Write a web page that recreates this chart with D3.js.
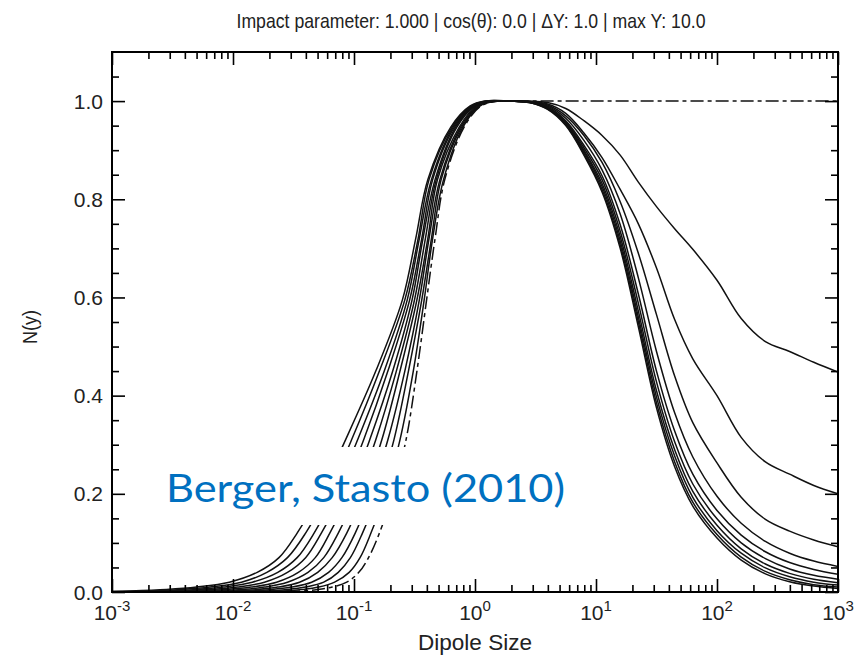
<!DOCTYPE html>
<html>
<head>
<meta charset="utf-8">
<script src="https://cdn.jsdelivr.net/npm/d3@7"></script>
<style>
  html, body { margin: 0; padding: 0; background: #fff; }
  svg { display: block; }
</style>
</head>
<body>
<svg id="chart" width="868" height="655"></svg>
<script>
// ---- text ----
const titleText = "Impact parameter: 1.000 | cos(\u03B8): 0.0 | \u0394Y: 1.0 | max Y: 10.0";
const xLabel = "Dipole Size";
const yLabel = "N(y)";
const noteText = "Berger, Stasto (2010)";

// ---- axis ticks ----
const xDecades = [-3, -2, -1, 0, 1, 2, 3];
const xMinorMultipliers = [2, 3, 4, 5, 6, 7, 8, 9];
const yMajor = [0, 0.2, 0.4, 0.6, 0.8, 1.0];
const yMajorLabels = ["0.0", "0.2", "0.4", "0.6", "0.8", "1.0"];
const yMinor = [0.05, 0.1, 0.15, 0.25, 0.3, 0.35, 0.45, 0.5, 0.55, 0.65, 0.7, 0.75, 0.85, 0.9, 0.95, 1.05];

// ---- evolution steps (one curve each) ----
const rapidity = [0, 1, 2, 3, 4, 5, 6, 7, 8, 9, 10];

// N at the left edge (dipole size 1e-3)
const leftEdgeN = [0, 0, 0, 0, 0, 0.0002, 0.0003, 0.0005, 0.0007, 0.0009, 0.0012];

// rising side: log10(r) where each curve reaches these N levels
const riseLevels = [0.002, 0.005, 0.01, 0.02, 0.04, 0.07, 0.12, 0.2, 0.31, 0.45, 0.595, 0.72, 0.84, 0.947, 0.99, 1.0];
const riseLogR = [
  [-1.45, -1.30, -1.18, -1.06, -0.96, -0.88, -0.79, -0.68, -0.57, -0.48, -0.40, -0.33, -0.25, -0.09, 0.05, 0.20],
  [-1.59, -1.43, -1.29, -1.16, -1.04, -0.95, -0.86, -0.74, -0.62, -0.51, -0.42, -0.35, -0.26, -0.10, 0.04, 0.19],
  [-1.73, -1.55, -1.40, -1.25, -1.13, -1.03, -0.93, -0.80, -0.67, -0.55, -0.44, -0.36, -0.28, -0.11, 0.03, 0.18],
  [-1.87, -1.68, -1.52, -1.35, -1.21, -1.10, -0.99, -0.86, -0.72, -0.58, -0.46, -0.38, -0.29, -0.12, 0.02, 0.16],
  [-2.01, -1.80, -1.63, -1.45, -1.30, -1.18, -1.06, -0.92, -0.77, -0.62, -0.48, -0.39, -0.31, -0.13, 0.01, 0.15],
  [-2.15, -1.93, -1.74, -1.55, -1.38, -1.25, -1.13, -0.98, -0.82, -0.65, -0.50, -0.41, -0.32, -0.15, 0.00, 0.14],
  [-2.29, -2.05, -1.85, -1.64, -1.46, -1.32, -1.20, -1.04, -0.87, -0.68, -0.52, -0.43, -0.33, -0.16, -0.01, 0.13],
  [-2.43, -2.18, -1.96, -1.74, -1.55, -1.40, -1.27, -1.10, -0.92, -0.72, -0.54, -0.44, -0.35, -0.17, -0.01, 0.12],
  [-2.57, -2.30, -2.08, -1.84, -1.63, -1.47, -1.33, -1.16, -0.97, -0.75, -0.56, -0.46, -0.36, -0.18, -0.02, 0.11],
  [-2.71, -2.43, -2.19, -1.93, -1.72, -1.55, -1.40, -1.22, -1.02, -0.79, -0.58, -0.47, -0.38, -0.19, -0.03, 0.09],
  [-2.85, -2.55, -2.30, -2.03, -1.80, -1.62, -1.47, -1.28, -1.07, -0.82, -0.60, -0.49, -0.39, -0.20, -0.04, 0.08]
];

// falling side: N of each curve at these log10(r)
const fallLogR = [0.3, 0.45, 0.6, 0.75, 0.9, 1.05, 1.2, 1.35, 1.5, 1.65, 1.8, 2.0, 2.2, 2.4, 2.6, 2.8, 3.0];
const fallN = [
  [1, 1, 1, 1, 1, 1, 1, 1, 1, 1, 1, 1, 1, 1, 1, 1, 1],
  [1, 0.997, 0.983, 0.950, 0.890, 0.815, 0.700, 0.540, 0.375, 0.255, 0.175, 0.110, 0.065, 0.037, 0.021, 0.012, 0.007],
  [1, 0.997, 0.984, 0.952, 0.893, 0.820, 0.707, 0.550, 0.385, 0.265, 0.183, 0.117, 0.071, 0.042, 0.025, 0.015, 0.010],
  [1, 0.997, 0.985, 0.954, 0.897, 0.826, 0.715, 0.560, 0.397, 0.277, 0.193, 0.125, 0.079, 0.049, 0.031, 0.020, 0.014],
  [1, 0.998, 0.986, 0.956, 0.900, 0.832, 0.724, 0.572, 0.410, 0.290, 0.205, 0.136, 0.088, 0.057, 0.038, 0.026, 0.019],
  [1, 0.998, 0.987, 0.958, 0.905, 0.840, 0.735, 0.588, 0.428, 0.306, 0.220, 0.149, 0.100, 0.068, 0.047, 0.034, 0.026],
  [1, 0.998, 0.988, 0.960, 0.910, 0.848, 0.748, 0.607, 0.450, 0.328, 0.240, 0.166, 0.116, 0.082, 0.060, 0.046, 0.036],
  [1, 0.998, 0.990, 0.965, 0.920, 0.860, 0.770, 0.640, 0.490, 0.365, 0.275, 0.195, 0.140, 0.103, 0.079, 0.063, 0.052],
  [1, 0.999, 0.992, 0.970, 0.930, 0.875, 0.795, 0.690, 0.565, 0.440, 0.345, 0.263, 0.193, 0.148, 0.124, 0.106, 0.092],
  [1, 0.999, 0.994, 0.975, 0.935, 0.885, 0.820, 0.750, 0.660, 0.555, 0.475, 0.400, 0.315, 0.265, 0.240, 0.217, 0.200],
  [1, 1.000, 0.997, 0.985, 0.960, 0.930, 0.890, 0.835, 0.785, 0.740, 0.698, 0.635, 0.557, 0.510, 0.490, 0.468, 0.448]
];

// ---- layout ----
const svg = d3.select("#chart");
const plot = { left: 112, right: 838, top: 52, bottom: 592 };
const axisFont = "'Liberation Sans', Arial, sans-serif";

const x = d3.scaleLog().domain([1e-3, 1e3]).range([plot.left, plot.right]);
const y = d3.scaleLinear().domain([0, 1.1]).range([plot.bottom, plot.top]);

svg.append("defs").append("clipPath").attr("id", "plotClip")
  .append("rect")
  .attr("x", plot.left).attr("y", plot.top)
  .attr("width", plot.right - plot.left).attr("height", plot.bottom - plot.top);

// ---- curves ----
const line = d3.line()
  .x(d => x(Math.pow(10, d[0])))
  .y(d => y(d[1]))
  .curve(d3.curveCatmullRom.alpha(0.5));

const curves = rapidity.map((Y, i) => {
  const pts = [[-3, leftEdgeN[i]]];
  riseLevels.forEach((n, j) => pts.push([riseLogR[i][j], n]));
  fallLogR.forEach((lr, j) => pts.push([lr, fallN[i][j]]));
  return { Y, pts };
});

const gCurves = svg.append("g").attr("clip-path", "url(#plotClip)");
gCurves.selectAll("path")
  .data(curves)
  .join("path")
  .attr("d", d => line(d.pts))
  .attr("fill", "none")
  .attr("stroke", "#111")
  .attr("stroke-width", 1.5)
  .attr("stroke-dasharray", d => d.Y === 0 ? "13,4,4,4" : null);

// ---- citation note on a white patch ----
svg.append("rect")
  .attr("x", 158).attr("y", 447).attr("width", 414).attr("height", 78)
  .attr("fill", "#fff");
svg.append("text")
  .attr("x", 166).attr("y", 502)
  .attr("font-family", "Lato, 'Open Sans', sans-serif")
  .attr("font-size", 39)
  .attr("fill", "#0070C0")
  .attr("textLength", 399)
  .attr("lengthAdjust", "spacingAndGlyphs")
  .text(noteText);

// ---- axes: ticks pointing inward on all four sides ----
const xMajorVals = xDecades.map(d => Math.pow(10, d));
const xMinorVals = [];
xDecades.slice(0, -1).forEach(d => xMinorMultipliers.forEach(m => xMinorVals.push(m * Math.pow(10, d))));

function styleAxis(g) {
  g.select(".domain").remove();
  g.selectAll(".tick line").attr("stroke", "#000").attr("stroke-width", 1.6);
  g.selectAll(".tick text").remove();
}

svg.append("g").attr("transform", `translate(0,${plot.bottom})`)
  .call(d3.axisBottom(x).tickValues(xMajorVals).tickSize(-13)).call(styleAxis);
svg.append("g").attr("transform", `translate(0,${plot.bottom})`)
  .call(d3.axisBottom(x).tickValues(xMinorVals).tickSize(-7)).call(styleAxis);
svg.append("g").attr("transform", `translate(0,${plot.top})`)
  .call(d3.axisTop(x).tickValues(xMajorVals).tickSize(-13)).call(styleAxis);
svg.append("g").attr("transform", `translate(0,${plot.top})`)
  .call(d3.axisTop(x).tickValues(xMinorVals).tickSize(-7)).call(styleAxis);

svg.append("g").attr("transform", `translate(${plot.left},0)`)
  .call(d3.axisLeft(y).tickValues(yMajor).tickSize(-13)).call(styleAxis);
svg.append("g").attr("transform", `translate(${plot.left},0)`)
  .call(d3.axisLeft(y).tickValues(yMinor).tickSize(-7)).call(styleAxis);
svg.append("g").attr("transform", `translate(${plot.right},0)`)
  .call(d3.axisRight(y).tickValues(yMajor).tickSize(-13)).call(styleAxis);
svg.append("g").attr("transform", `translate(${plot.right},0)`)
  .call(d3.axisRight(y).tickValues(yMinor).tickSize(-7)).call(styleAxis);

// frame
svg.append("rect")
  .attr("x", plot.left).attr("y", plot.top)
  .attr("width", plot.right - plot.left).attr("height", plot.bottom - plot.top)
  .attr("fill", "none").attr("stroke", "#000").attr("stroke-width", 2);

// y tick labels
svg.append("g").selectAll("text")
  .data(yMajor)
  .join("text")
  .attr("x", plot.left - 9)
  .attr("y", d => y(d) + 7.5)
  .attr("text-anchor", "end")
  .attr("font-family", axisFont)
  .attr("font-size", 21)
  .attr("fill", "#222")
  .text((d, i) => yMajorLabels[i]);

// x tick labels: 10 with a raised exponent
const xl = svg.append("g").selectAll("text")
  .data(xDecades)
  .join("text")
  .attr("x", d => x(Math.pow(10, d)))
  .attr("y", 620)
  .attr("text-anchor", "middle")
  .attr("font-family", axisFont)
  .attr("font-size", 21)
  .attr("fill", "#222");
xl.append("tspan").text("10");
xl.append("tspan").attr("dy", -9).attr("font-size", 15).text(d => d);

// axis titles
svg.append("text")
  .attr("x", (plot.left + plot.right) / 2).attr("y", 650)
  .attr("text-anchor", "middle")
  .attr("font-family", axisFont).attr("font-size", 22).attr("fill", "#222")
  .attr("textLength", 114).attr("lengthAdjust", "spacingAndGlyphs")
  .text(xLabel);
svg.append("text")
  .attr("transform", `translate(37,${(plot.top + plot.bottom) / 2 + 5}) rotate(-90)`)
  .attr("text-anchor", "middle")
  .attr("font-family", axisFont).attr("font-size", 21).attr("fill", "#222")
  .attr("textLength", 34).attr("lengthAdjust", "spacingAndGlyphs")
  .text(yLabel);

// title
svg.append("text")
  .attr("x", 471).attr("y", 28)
  .attr("text-anchor", "middle")
  .attr("font-family", axisFont).attr("font-size", 21).attr("fill", "#222")
  .attr("textLength", 469).attr("lengthAdjust", "spacingAndGlyphs")
  .text(titleText);
</script>
</body>
</html>
